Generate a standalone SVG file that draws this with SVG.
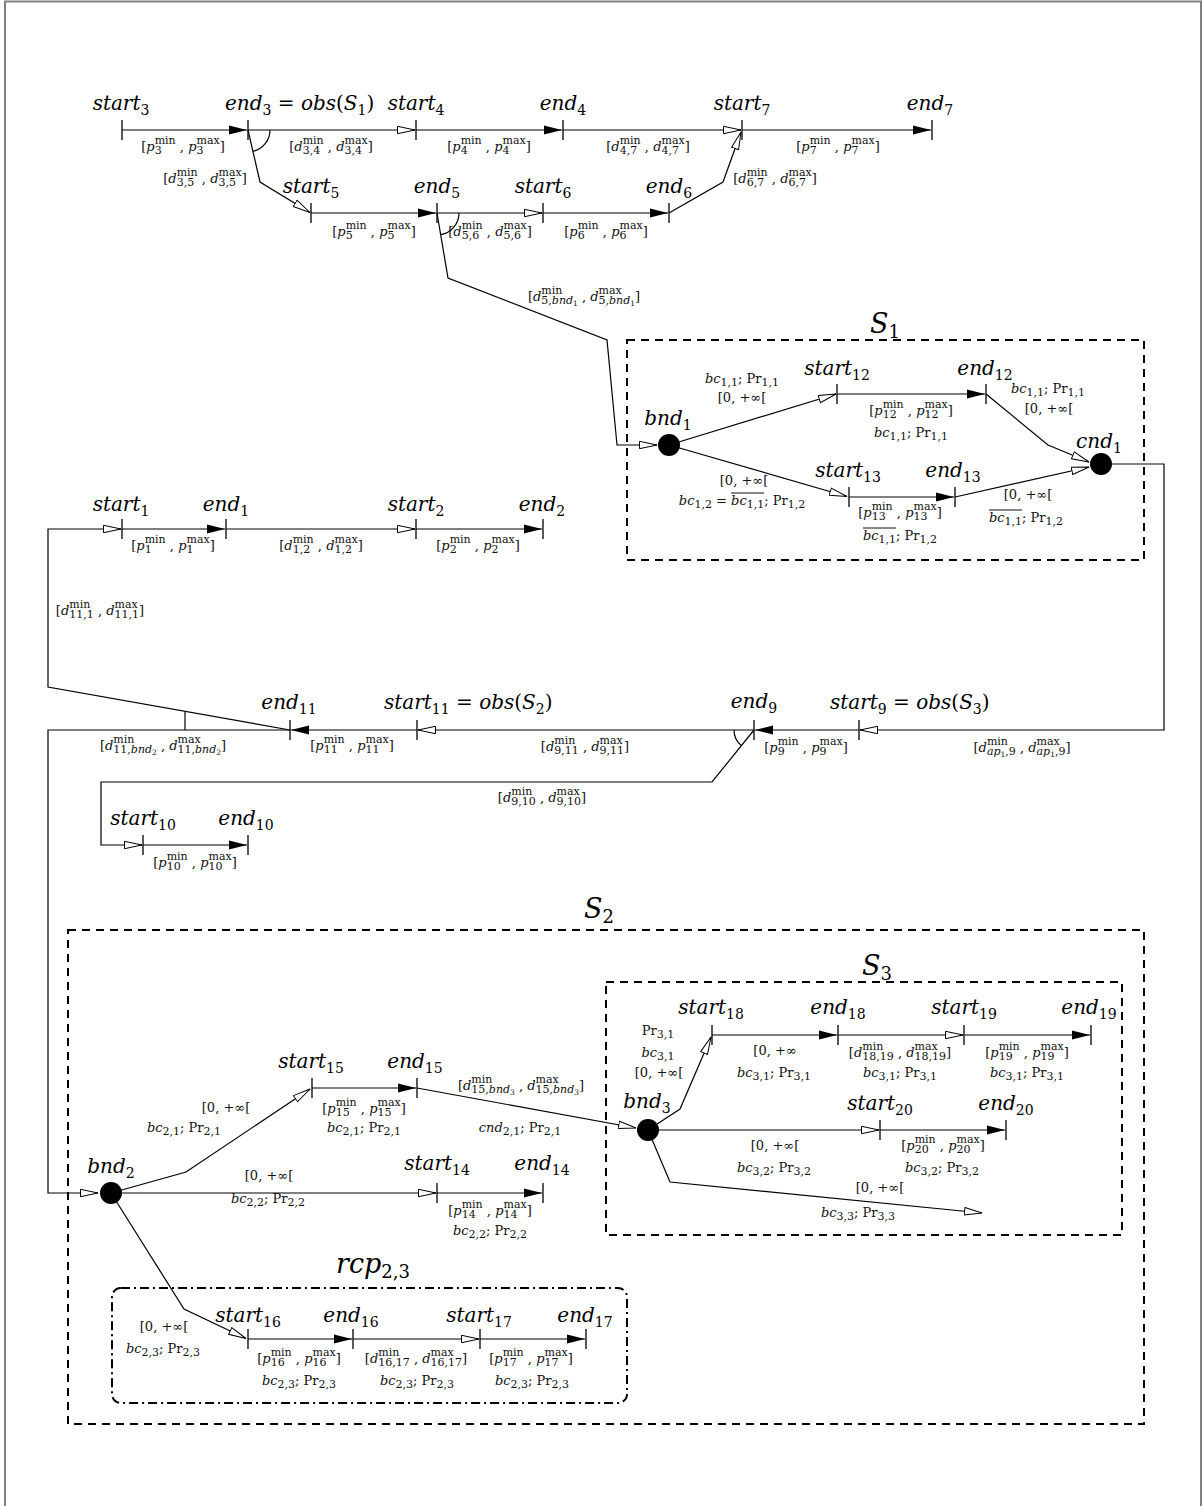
<svg xmlns="http://www.w3.org/2000/svg" width="1203" height="1506" viewBox="0 0 1203 1506">
<style>
.e{fill:none;stroke:#000;stroke-width:1.2}
.f{marker-end:url(#af)}
.o{marker-end:url(#ao)}
.tk{stroke:#000;stroke-width:1.3}
.t{font-family:"DejaVu Serif",serif;font-style:italic;font-size:20px;text-anchor:middle;fill:#000}
.ts{font-size:14px;font-style:normal}
.r{font-style:normal}
.l{font-family:"DejaVu Serif",serif;font-size:13px;text-anchor:middle;fill:#111}
.i{font-style:italic}
.s{font-size:11px}
.ss{font-size:7.5px;font-style:normal}
.box{fill:none;stroke:#000;stroke-width:2;stroke-dasharray:8 6}
.rcp{fill:none;stroke:#000;stroke-width:2;stroke-dasharray:9 4 2 4}
.big{font-family:"DejaVu Serif",serif;font-style:italic;font-size:27px;text-anchor:middle;fill:#000}
.bs{font-size:18px;font-style:normal}
.ol{stroke:#111;stroke-width:1}
</style>
<defs>
<marker id="af" markerWidth="20" markerHeight="10" refX="18" refY="5" orient="auto" markerUnits="userSpaceOnUse"><path d="M0,0.5 L18,5 L0,9.5 z" fill="#000"/></marker>
<marker id="ao" markerWidth="20" markerHeight="10" refX="18" refY="5" orient="auto" markerUnits="userSpaceOnUse"><path d="M0.5,1.3 L18,5 L0.5,8.7 z" fill="#fff" stroke="#000" stroke-width="1"/></marker>
</defs>
<rect width="1203" height="1506" fill="#fff"/>
<path d="M5,1510 V1.5 H1201 V1510" fill="none" stroke="#808080" stroke-width="2"/>

<g id="boxes">
<g id="S1"><rect class="box" x="627" y="340" width="517" height="220"/><text class="big" x="885" y="333">S<tspan class="bs" dy="5">1</tspan></text></g>
<g id="S2"><rect class="box" x="68" y="930" width="1076" height="494"/><text class="big" x="599" y="918">S<tspan class="bs" dy="5">2</tspan></text></g>
<g id="S3"><rect class="box" x="606" y="982" width="516" height="253"/><text class="big" x="877" y="975">S<tspan class="bs" dy="5">3</tspan></text></g>
<g id="rcp23"><rect class="rcp" x="112" y="1288" width="515" height="115" rx="9"/><text class="big" x="373" y="1273">rcp<tspan class="bs" dy="5">2,3</tspan></text></g>
</g>

<g id="connectors">
<path class="e f" d="M122,130 H247"/>
<path class="e o" d="M248,130 H415"/>
<path class="e f" d="M416,130 H562"/>
<path class="e o" d="M563,130 H741"/>
<path class="e f" d="M742,130 H931"/>
<path class="e o" d="M248,130 L260,182 L310,212.5"/>
<path class="e" d="M270,130 A22,22 0 0 1 252.9,151.4"/>
<path class="e f" d="M311,213 H436"/>
<path class="e o" d="M437,213 H542"/>
<path class="e f" d="M543,213 H668"/>
<path class="e o" d="M669,213 L723,182 L741,132"/>
<path class="e" d="M459,213 A22,22 0 0 1 440.8,234.7"/>
<path class="e o" d="M437,213 L448,278 L607,340 L617,445 L657,445"/>
<path class="e o" d="M669,445 L836,394"/>
<path class="e f" d="M837,394 H985"/>
<path class="e o" d="M986,394 L1048,445 L1089,462"/>
<path class="e o" d="M669,445 L847,496.5"/>
<path class="e f" d="M849,497 H954"/>
<path class="e o" d="M955,497 L1089,467"/>
<path class="e o" d="M1101,464 H1164 V730 H860"/>
<path class="e f" d="M122,529 H225"/>
<path class="e o" d="M226,529 H415"/>
<path class="e f" d="M416,529 H542"/>
<path class="e o" d="M290,730 L48,687 V529 H121"/>
<path class="e f" d="M859,730 H755"/>
<path class="e o" d="M754,730 H418"/>
<path class="e f" d="M417,730 H291"/>
<path class="e o" d="M290,730 H48 V1193 H98"/>
<path class="e" d="M185,711.5 V730"/>
<path class="e o" d="M754,730 L712,782 H101 V845 H142"/>
<path class="e" d="M734,730 A20,20 0 0 0 741.4,745.6"/>
<path class="e f" d="M143,845 H247"/>
<path class="e o" d="M111,1193 L186,1172 L310,1089"/>
<path class="e f" d="M312,1088 H416"/>
<path class="e o" d="M417,1088 L636,1128"/>
<path class="e o" d="M111,1193 H436"/>
<path class="e f" d="M437,1193 H542"/>
<path class="e o" d="M111,1193 L184,1309 L246,1338.5"/>
<path class="e f" d="M248,1339 H352"/>
<path class="e o" d="M353,1339 H479"/>
<path class="e f" d="M480,1339 H585"/>
<path class="e o" d="M648,1130 L680,1109 L711,1037"/>
<path class="e f" d="M712,1035 H837"/>
<path class="e o" d="M838,1035 H963"/>
<path class="e f" d="M964,1035 H1090"/>
<path class="e o" d="M648,1130 H879"/>
<path class="e f" d="M880,1130 H1005"/>
<path class="e o" d="M648,1130 L670,1182 L982,1213"/>
</g>

<g id="edge-labels">
<text class="l" x="183" y="151">[<tspan class="i">p</tspan><tspan class="s" dy="-7">min</tspan><tspan class="s" dx="-21" dy="10">3</tspan><tspan dx="14" dy="-3"> , </tspan><tspan class="i">p</tspan><tspan class="s" dy="-7">max</tspan><tspan class="s" dx="-23.2" dy="10">3</tspan><tspan dx="16.2" dy="-3">]</tspan></text>
<text class="l" x="331" y="151">[<tspan class="i">d</tspan><tspan class="s" dy="-7">min</tspan><tspan class="s" dx="-21" dy="10">3,4</tspan><tspan dx="3.5" dy="-3"> , </tspan><tspan class="i">d</tspan><tspan class="s" dy="-7">max</tspan><tspan class="s" dx="-23.2" dy="10">3,4</tspan><tspan dx="5.7" dy="-3">]</tspan></text>
<text class="l" x="489" y="151">[<tspan class="i">p</tspan><tspan class="s" dy="-7">min</tspan><tspan class="s" dx="-21" dy="10">4</tspan><tspan dx="14" dy="-3"> , </tspan><tspan class="i">p</tspan><tspan class="s" dy="-7">max</tspan><tspan class="s" dx="-23.2" dy="10">4</tspan><tspan dx="16.2" dy="-3">]</tspan></text>
<text class="l" x="648" y="151">[<tspan class="i">d</tspan><tspan class="s" dy="-7">min</tspan><tspan class="s" dx="-21" dy="10">4,7</tspan><tspan dx="3.5" dy="-3"> , </tspan><tspan class="i">d</tspan><tspan class="s" dy="-7">max</tspan><tspan class="s" dx="-23.2" dy="10">4,7</tspan><tspan dx="5.7" dy="-3">]</tspan></text>
<text class="l" x="838" y="151">[<tspan class="i">p</tspan><tspan class="s" dy="-7">min</tspan><tspan class="s" dx="-21" dy="10">7</tspan><tspan dx="14" dy="-3"> , </tspan><tspan class="i">p</tspan><tspan class="s" dy="-7">max</tspan><tspan class="s" dx="-23.2" dy="10">7</tspan><tspan dx="16.2" dy="-3">]</tspan></text>
<text class="l" x="205" y="183">[<tspan class="i">d</tspan><tspan class="s" dy="-7">min</tspan><tspan class="s" dx="-21" dy="10">3,5</tspan><tspan dx="3.5" dy="-3"> , </tspan><tspan class="i">d</tspan><tspan class="s" dy="-7">max</tspan><tspan class="s" dx="-23.2" dy="10">3,5</tspan><tspan dx="5.7" dy="-3">]</tspan></text>
<text class="l" x="775" y="183">[<tspan class="i">d</tspan><tspan class="s" dy="-7">min</tspan><tspan class="s" dx="-21" dy="10">6,7</tspan><tspan dx="3.5" dy="-3"> , </tspan><tspan class="i">d</tspan><tspan class="s" dy="-7">max</tspan><tspan class="s" dx="-23.2" dy="10">6,7</tspan><tspan dx="5.7" dy="-3">]</tspan></text>
<text class="l" x="374" y="236">[<tspan class="i">p</tspan><tspan class="s" dy="-7">min</tspan><tspan class="s" dx="-21" dy="10">5</tspan><tspan dx="14" dy="-3"> , </tspan><tspan class="i">p</tspan><tspan class="s" dy="-7">max</tspan><tspan class="s" dx="-23.2" dy="10">5</tspan><tspan dx="16.2" dy="-3">]</tspan></text>
<text class="l" x="490" y="236">[<tspan class="i">d</tspan><tspan class="s" dy="-7">min</tspan><tspan class="s" dx="-21" dy="10">5,6</tspan><tspan dx="3.5" dy="-3"> , </tspan><tspan class="i">d</tspan><tspan class="s" dy="-7">max</tspan><tspan class="s" dx="-23.2" dy="10">5,6</tspan><tspan dx="5.7" dy="-3">]</tspan></text>
<text class="l" x="606" y="236">[<tspan class="i">p</tspan><tspan class="s" dy="-7">min</tspan><tspan class="s" dx="-21" dy="10">6</tspan><tspan dx="14" dy="-3"> , </tspan><tspan class="i">p</tspan><tspan class="s" dy="-7">max</tspan><tspan class="s" dx="-23.2" dy="10">6</tspan><tspan dx="16.2" dy="-3">]</tspan></text>
<text class="l" x="584" y="301">[<tspan class="i">d</tspan><tspan class="s" dy="-7">min</tspan><tspan class="s" dx="-21" dy="10">5,<tspan class="i">bnd</tspan><tspan class="ss" dy="2">1</tspan></tspan><tspan dy="-5"> , </tspan><tspan class="i">d</tspan><tspan class="s" dy="-7">max</tspan><tspan class="s" dx="-23.2" dy="10">5,<tspan class="i">bnd</tspan><tspan class="ss" dy="2">1</tspan></tspan><tspan dy="-5">]</tspan></text>

<text class="l" x="742" y="383"><tspan class="i">bc</tspan><tspan class="s" dy="3">1,1</tspan><tspan dy="-3">; Pr</tspan><tspan class="s" dy="3">1,1</tspan></text>
<text class="l" x="742" y="402">[0, +∞[</text>
<text class="l" x="911" y="415">[<tspan class="i">p</tspan><tspan class="s" dy="-7">min</tspan><tspan class="s" dx="-21" dy="10">12</tspan><tspan dx="7" dy="-3"> , </tspan><tspan class="i">p</tspan><tspan class="s" dy="-7">max</tspan><tspan class="s" dx="-23.2" dy="10">12</tspan><tspan dx="9.2" dy="-3">]</tspan></text>
<text class="l" x="911" y="437"><tspan class="i">bc</tspan><tspan class="s" dy="3">1,1</tspan><tspan dy="-3">; Pr</tspan><tspan class="s" dy="3">1,1</tspan></text>
<text class="l" x="1048" y="393"><tspan class="i">bc</tspan><tspan class="s" dy="3">1,1</tspan><tspan dy="-3">; Pr</tspan><tspan class="s" dy="3">1,1</tspan></text>
<text class="l" x="1049" y="413">[0, +∞[</text>
<text class="l" x="744" y="485">[0, +∞[</text>
<text class="l" x="742" y="505"><tspan class="i">bc</tspan><tspan class="s" dy="3">1,2</tspan><tspan dy="-3"> = </tspan><tspan class="i">bc</tspan><tspan class="s" dy="3">1,1</tspan><tspan dy="-3">; Pr</tspan><tspan class="s" dy="3">1,2</tspan></text>
<line class="ol" x1="731" y1="493" x2="764" y2="493"/>
<text class="l" x="900" y="517">[<tspan class="i">p</tspan><tspan class="s" dy="-7">min</tspan><tspan class="s" dx="-21" dy="10">13</tspan><tspan dx="7" dy="-3"> , </tspan><tspan class="i">p</tspan><tspan class="s" dy="-7">max</tspan><tspan class="s" dx="-23.2" dy="10">13</tspan><tspan dx="9.2" dy="-3">]</tspan></text>
<text class="l" x="900" y="540"><tspan class="i">bc</tspan><tspan class="s" dy="3">1,1</tspan><tspan dy="-3">; Pr</tspan><tspan class="s" dy="3">1,2</tspan></text>
<line class="ol" x1="863" y1="528" x2="896" y2="528"/>
<text class="l" x="1028" y="499">[0, +∞[</text>
<text class="l" x="1026" y="522"><tspan class="i">bc</tspan><tspan class="s" dy="3">1,1</tspan><tspan dy="-3">; Pr</tspan><tspan class="s" dy="3">1,2</tspan></text>
<line class="ol" x1="989" y1="510" x2="1022" y2="510"/>

<text class="l" x="173" y="550">[<tspan class="i">p</tspan><tspan class="s" dy="-7">min</tspan><tspan class="s" dx="-21" dy="10">1</tspan><tspan dx="14" dy="-3"> , </tspan><tspan class="i">p</tspan><tspan class="s" dy="-7">max</tspan><tspan class="s" dx="-23.2" dy="10">1</tspan><tspan dx="16.2" dy="-3">]</tspan></text>
<text class="l" x="321" y="550">[<tspan class="i">d</tspan><tspan class="s" dy="-7">min</tspan><tspan class="s" dx="-21" dy="10">1,2</tspan><tspan dx="3.5" dy="-3"> , </tspan><tspan class="i">d</tspan><tspan class="s" dy="-7">max</tspan><tspan class="s" dx="-23.2" dy="10">1,2</tspan><tspan dx="5.7" dy="-3">]</tspan></text>
<text class="l" x="478" y="550">[<tspan class="i">p</tspan><tspan class="s" dy="-7">min</tspan><tspan class="s" dx="-21" dy="10">2</tspan><tspan dx="14" dy="-3"> , </tspan><tspan class="i">p</tspan><tspan class="s" dy="-7">max</tspan><tspan class="s" dx="-23.2" dy="10">2</tspan><tspan dx="16.2" dy="-3">]</tspan></text>
<text class="l" x="100" y="615">[<tspan class="i">d</tspan><tspan class="s" dy="-7">min</tspan><tspan class="s" dx="-21" dy="10">11,1</tspan><tspan dy="-3"> , </tspan><tspan class="i">d</tspan><tspan class="s" dy="-7">max</tspan><tspan class="s" dx="-23.2" dy="10">11,1</tspan><tspan dy="-3">]</tspan></text>

<text class="l" x="163" y="750">[<tspan class="i">d</tspan><tspan class="s" dy="-7">min</tspan><tspan class="s" dx="-21" dy="10">11,<tspan class="i">bnd</tspan><tspan class="ss" dy="2">2</tspan></tspan><tspan dy="-5"> , </tspan><tspan class="i">d</tspan><tspan class="s" dy="-7">max</tspan><tspan class="s" dx="-23.2" dy="10">11,<tspan class="i">bnd</tspan><tspan class="ss" dy="2">2</tspan></tspan><tspan dy="-5">]</tspan></text>
<text class="l" x="352" y="750">[<tspan class="i">p</tspan><tspan class="s" dy="-7">min</tspan><tspan class="s" dx="-21" dy="10">11</tspan><tspan dx="7" dy="-3"> , </tspan><tspan class="i">p</tspan><tspan class="s" dy="-7">max</tspan><tspan class="s" dx="-23.2" dy="10">11</tspan><tspan dx="9.2" dy="-3">]</tspan></text>
<text class="l" x="585" y="751">[<tspan class="i">d</tspan><tspan class="s" dy="-7">min</tspan><tspan class="s" dx="-21" dy="10">9,11</tspan><tspan dy="-3"> , </tspan><tspan class="i">d</tspan><tspan class="s" dy="-7">max</tspan><tspan class="s" dx="-23.2" dy="10">9,11</tspan><tspan dy="-3">]</tspan></text>
<text class="l" x="806" y="752">[<tspan class="i">p</tspan><tspan class="s" dy="-7">min</tspan><tspan class="s" dx="-21" dy="10">9</tspan><tspan dx="14" dy="-3"> , </tspan><tspan class="i">p</tspan><tspan class="s" dy="-7">max</tspan><tspan class="s" dx="-23.2" dy="10">9</tspan><tspan dx="16.2" dy="-3">]</tspan></text>
<text class="l" x="1022" y="752">[<tspan class="i">d</tspan><tspan class="s" dy="-7">min</tspan><tspan class="s" dx="-21" dy="10"><tspan class="i">ap</tspan><tspan class="ss" dy="2">1</tspan><tspan dy="-2">,9</tspan></tspan><tspan dy="-3"> , </tspan><tspan class="i">d</tspan><tspan class="s" dy="-7">max</tspan><tspan class="s" dx="-23.2" dy="10"><tspan class="i">ap</tspan><tspan class="ss" dy="2">1</tspan><tspan dy="-2">,9</tspan></tspan><tspan dy="-3">]</tspan></text>
<text class="l" x="542" y="802">[<tspan class="i">d</tspan><tspan class="s" dy="-7">min</tspan><tspan class="s" dx="-21" dy="10">9,10</tspan><tspan dy="-3"> , </tspan><tspan class="i">d</tspan><tspan class="s" dy="-7">max</tspan><tspan class="s" dx="-23.2" dy="10">9,10</tspan><tspan dy="-3">]</tspan></text>
<text class="l" x="195" y="867">[<tspan class="i">p</tspan><tspan class="s" dy="-7">min</tspan><tspan class="s" dx="-21" dy="10">10</tspan><tspan dx="7" dy="-3"> , </tspan><tspan class="i">p</tspan><tspan class="s" dy="-7">max</tspan><tspan class="s" dx="-23.2" dy="10">10</tspan><tspan dx="9.2" dy="-3">]</tspan></text>

<text class="l" x="226" y="1112">[0, +∞[</text>
<text class="l" x="184" y="1132"><tspan class="i">bc</tspan><tspan class="s" dy="3">2,1</tspan><tspan dy="-3">; Pr</tspan><tspan class="s" dy="3">2,1</tspan></text>
<text class="l" x="364" y="1113">[<tspan class="i">p</tspan><tspan class="s" dy="-7">min</tspan><tspan class="s" dx="-21" dy="10">15</tspan><tspan dx="7" dy="-3"> , </tspan><tspan class="i">p</tspan><tspan class="s" dy="-7">max</tspan><tspan class="s" dx="-23.2" dy="10">15</tspan><tspan dx="9.2" dy="-3">]</tspan></text>
<text class="l" x="364" y="1132"><tspan class="i">bc</tspan><tspan class="s" dy="3">2,1</tspan><tspan dy="-3">; Pr</tspan><tspan class="s" dy="3">2,1</tspan></text>
<text class="l" x="521" y="1090">[<tspan class="i">d</tspan><tspan class="s" dy="-7">min</tspan><tspan class="s" dx="-21" dy="10">15,<tspan class="i">bnd</tspan><tspan class="ss" dy="2">3</tspan></tspan><tspan dy="-5"> , </tspan><tspan class="i">d</tspan><tspan class="s" dy="-7">max</tspan><tspan class="s" dx="-23.2" dy="10">15,<tspan class="i">bnd</tspan><tspan class="ss" dy="2">3</tspan></tspan><tspan dy="-5">]</tspan></text>
<text class="l" x="520" y="1132"><tspan class="i">cnd</tspan><tspan class="s" dy="3">2,1</tspan><tspan dy="-3">; Pr</tspan><tspan class="s" dy="3">2,1</tspan></text>
<text class="l" x="269" y="1180">[0, +∞[</text>
<text class="l" x="268" y="1203"><tspan class="i">bc</tspan><tspan class="s" dy="3">2,2</tspan><tspan dy="-3">; Pr</tspan><tspan class="s" dy="3">2,2</tspan></text>
<text class="l" x="490" y="1215">[<tspan class="i">p</tspan><tspan class="s" dy="-7">min</tspan><tspan class="s" dx="-21" dy="10">14</tspan><tspan dx="7" dy="-3"> , </tspan><tspan class="i">p</tspan><tspan class="s" dy="-7">max</tspan><tspan class="s" dx="-23.2" dy="10">14</tspan><tspan dx="9.2" dy="-3">]</tspan></text>
<text class="l" x="490" y="1235"><tspan class="i">bc</tspan><tspan class="s" dy="3">2,2</tspan><tspan dy="-3">; Pr</tspan><tspan class="s" dy="3">2,2</tspan></text>

<text class="l" x="658" y="1035">Pr<tspan class="s" dy="3">3,1</tspan></text>
<text class="l" x="658" y="1057"><tspan class="i">bc</tspan><tspan class="s" dy="3">3,1</tspan></text>
<text class="l" x="659" y="1077">[0, +∞[</text>
<text class="l" x="775" y="1055">[0, +∞</text>
<text class="l" x="774" y="1077"><tspan class="i">bc</tspan><tspan class="s" dy="3">3,1</tspan><tspan dy="-3">; Pr</tspan><tspan class="s" dy="3">3,1</tspan></text>
<text class="l" x="900" y="1057">[<tspan class="i">d</tspan><tspan class="s" dy="-7">min</tspan><tspan class="s" dx="-21" dy="10">18,19</tspan><tspan dy="-3"> , </tspan><tspan class="i">d</tspan><tspan class="s" dy="-7">max</tspan><tspan class="s" dx="-23.2" dy="10">18,19</tspan><tspan dy="-3">]</tspan></text>
<text class="l" x="900" y="1077"><tspan class="i">bc</tspan><tspan class="s" dy="3">3,1</tspan><tspan dy="-3">; Pr</tspan><tspan class="s" dy="3">3,1</tspan></text>
<text class="l" x="1027" y="1057">[<tspan class="i">p</tspan><tspan class="s" dy="-7">min</tspan><tspan class="s" dx="-21" dy="10">19</tspan><tspan dx="7" dy="-3"> , </tspan><tspan class="i">p</tspan><tspan class="s" dy="-7">max</tspan><tspan class="s" dx="-23.2" dy="10">19</tspan><tspan dx="9.2" dy="-3">]</tspan></text>
<text class="l" x="1027" y="1077"><tspan class="i">bc</tspan><tspan class="s" dy="3">3,1</tspan><tspan dy="-3">; Pr</tspan><tspan class="s" dy="3">3,1</tspan></text>
<text class="l" x="775" y="1150">[0, +∞[</text>
<text class="l" x="774" y="1172"><tspan class="i">bc</tspan><tspan class="s" dy="3">3,2</tspan><tspan dy="-3">; Pr</tspan><tspan class="s" dy="3">3,2</tspan></text>
<text class="l" x="943" y="1150">[<tspan class="i">p</tspan><tspan class="s" dy="-7">min</tspan><tspan class="s" dx="-21" dy="10">20</tspan><tspan dx="7" dy="-3"> , </tspan><tspan class="i">p</tspan><tspan class="s" dy="-7">max</tspan><tspan class="s" dx="-23.2" dy="10">20</tspan><tspan dx="9.2" dy="-3">]</tspan></text>
<text class="l" x="942" y="1172"><tspan class="i">bc</tspan><tspan class="s" dy="3">3,2</tspan><tspan dy="-3">; Pr</tspan><tspan class="s" dy="3">3,2</tspan></text>
<text class="l" x="880" y="1192">[0, +∞[</text>
<text class="l" x="858" y="1217"><tspan class="i">bc</tspan><tspan class="s" dy="3">3,3</tspan><tspan dy="-3">; Pr</tspan><tspan class="s" dy="3">3,3</tspan></text>

<text class="l" x="164" y="1331">[0, +∞[</text>
<text class="l" x="163" y="1353"><tspan class="i">bc</tspan><tspan class="s" dy="3">2,3</tspan><tspan dy="-3">; Pr</tspan><tspan class="s" dy="3">2,3</tspan></text>
<text class="l" x="299" y="1363">[<tspan class="i">p</tspan><tspan class="s" dy="-7">min</tspan><tspan class="s" dx="-21" dy="10">16</tspan><tspan dx="7" dy="-3"> , </tspan><tspan class="i">p</tspan><tspan class="s" dy="-7">max</tspan><tspan class="s" dx="-23.2" dy="10">16</tspan><tspan dx="9.2" dy="-3">]</tspan></text>
<text class="l" x="299" y="1385"><tspan class="i">bc</tspan><tspan class="s" dy="3">2,3</tspan><tspan dy="-3">; Pr</tspan><tspan class="s" dy="3">2,3</tspan></text>
<text class="l" x="416" y="1363">[<tspan class="i">d</tspan><tspan class="s" dy="-7">min</tspan><tspan class="s" dx="-21" dy="10">16,17</tspan><tspan dy="-3"> , </tspan><tspan class="i">d</tspan><tspan class="s" dy="-7">max</tspan><tspan class="s" dx="-23.2" dy="10">16,17</tspan><tspan dy="-3">]</tspan></text>
<text class="l" x="417" y="1385"><tspan class="i">bc</tspan><tspan class="s" dy="3">2,3</tspan><tspan dy="-3">; Pr</tspan><tspan class="s" dy="3">2,3</tspan></text>
<text class="l" x="531" y="1363">[<tspan class="i">p</tspan><tspan class="s" dy="-7">min</tspan><tspan class="s" dx="-21" dy="10">17</tspan><tspan dx="7" dy="-3"> , </tspan><tspan class="i">p</tspan><tspan class="s" dy="-7">max</tspan><tspan class="s" dx="-23.2" dy="10">17</tspan><tspan dx="9.2" dy="-3">]</tspan></text>
<text class="l" x="532" y="1385"><tspan class="i">bc</tspan><tspan class="s" dy="3">2,3</tspan><tspan dy="-3">; Pr</tspan><tspan class="s" dy="3">2,3</tspan></text>
</g>

<g id="nodes">
<g id="start3"><line class="tk" x1="122" y1="120" x2="122" y2="140"/><text class="t" x="121" y="110">start<tspan class="ts" dy="5">3</tspan></text></g>
<g id="end3"><line class="tk" x1="248" y1="120" x2="248" y2="140"/><text class="t" x="225" y="110" style="text-anchor:start">end<tspan class="ts" dy="5">3</tspan><tspan class="r" dy="-5"> = </tspan>obs<tspan class="r">(</tspan>S<tspan class="ts" dy="5">1</tspan><tspan class="r" dy="-5">)</tspan></text></g>
<g id="start4"><line class="tk" x1="416" y1="120" x2="416" y2="140"/><text class="t" x="416" y="110">start<tspan class="ts" dy="5">4</tspan></text></g>
<g id="end4"><line class="tk" x1="563" y1="120" x2="563" y2="140"/><text class="t" x="563" y="110">end<tspan class="ts" dy="5">4</tspan></text></g>
<g id="start7"><line class="tk" x1="742" y1="120" x2="742" y2="140"/><text class="t" x="742" y="110">start<tspan class="ts" dy="5">7</tspan></text></g>
<g id="end7"><line class="tk" x1="932" y1="120" x2="932" y2="140"/><text class="t" x="930" y="110">end<tspan class="ts" dy="5">7</tspan></text></g>
<g id="start5"><line class="tk" x1="311" y1="203" x2="311" y2="223"/><text class="t" x="311" y="193">start<tspan class="ts" dy="5">5</tspan></text></g>
<g id="end5"><line class="tk" x1="437" y1="203" x2="437" y2="223"/><text class="t" x="437" y="193">end<tspan class="ts" dy="5">5</tspan></text></g>
<g id="start6"><line class="tk" x1="543" y1="203" x2="543" y2="223"/><text class="t" x="543" y="193">start<tspan class="ts" dy="5">6</tspan></text></g>
<g id="end6"><line class="tk" x1="669" y1="203" x2="669" y2="223"/><text class="t" x="669" y="193">end<tspan class="ts" dy="5">6</tspan></text></g>

<g id="bnd1"><circle cx="669" cy="445" r="11" fill="#000"/><text class="t" x="668" y="425">bnd<tspan class="ts" dy="5">1</tspan></text></g>
<g id="start12"><line class="tk" x1="837" y1="384" x2="837" y2="404"/><text class="t" x="837" y="375">start<tspan class="ts" dy="5">12</tspan></text></g>
<g id="end12"><line class="tk" x1="986" y1="384" x2="986" y2="404"/><text class="t" x="985" y="375">end<tspan class="ts" dy="5">12</tspan></text></g>
<g id="start13"><line class="tk" x1="849" y1="487" x2="849" y2="507"/><text class="t" x="848" y="477">start<tspan class="ts" dy="5">13</tspan></text></g>
<g id="end13"><line class="tk" x1="955" y1="487" x2="955" y2="507"/><text class="t" x="953" y="477">end<tspan class="ts" dy="5">13</tspan></text></g>
<g id="cnd1"><circle cx="1101" cy="464" r="11" fill="#000"/><text class="t" x="1099" y="448">cnd<tspan class="ts" dy="5">1</tspan></text></g>

<g id="start1"><line class="tk" x1="122" y1="519" x2="122" y2="539"/><text class="t" x="121" y="511">start<tspan class="ts" dy="5">1</tspan></text></g>
<g id="end1"><line class="tk" x1="226" y1="519" x2="226" y2="539"/><text class="t" x="226" y="511">end<tspan class="ts" dy="5">1</tspan></text></g>
<g id="start2"><line class="tk" x1="416" y1="519" x2="416" y2="539"/><text class="t" x="416" y="511">start<tspan class="ts" dy="5">2</tspan></text></g>
<g id="end2"><line class="tk" x1="543" y1="519" x2="543" y2="539"/><text class="t" x="542" y="511">end<tspan class="ts" dy="5">2</tspan></text></g>

<g id="end11"><line class="tk" x1="290" y1="720" x2="290" y2="740"/><text class="t" x="289" y="709">end<tspan class="ts" dy="5">11</tspan></text></g>
<g id="start11"><line class="tk" x1="417" y1="720" x2="417" y2="740"/><text class="t" x="384" y="709" style="text-anchor:start">start<tspan class="ts" dy="5">11</tspan><tspan class="r" dy="-5"> = </tspan>obs<tspan class="r">(</tspan>S<tspan class="ts" dy="5">2</tspan><tspan class="r" dy="-5">)</tspan></text></g>
<g id="end9"><line class="tk" x1="754" y1="720" x2="754" y2="740"/><text class="t" x="754" y="708">end<tspan class="ts" dy="5">9</tspan></text></g>
<g id="start9"><line class="tk" x1="859" y1="720" x2="859" y2="740"/><text class="t" x="830" y="709" style="text-anchor:start">start<tspan class="ts" dy="5">9</tspan><tspan class="r" dy="-5"> = </tspan>obs<tspan class="r">(</tspan>S<tspan class="ts" dy="5">3</tspan><tspan class="r" dy="-5">)</tspan></text></g>
<g id="start10"><line class="tk" x1="143" y1="835" x2="143" y2="855"/><text class="t" x="143" y="825">start<tspan class="ts" dy="5">10</tspan></text></g>
<g id="end10"><line class="tk" x1="248" y1="835" x2="248" y2="855"/><text class="t" x="246" y="825">end<tspan class="ts" dy="5">10</tspan></text></g>

<g id="bnd2"><circle cx="111" cy="1193" r="11" fill="#000"/><text class="t" x="111" y="1173">bnd<tspan class="ts" dy="5">2</tspan></text></g>
<g id="start15"><line class="tk" x1="312" y1="1078" x2="312" y2="1098"/><text class="t" x="311" y="1068">start<tspan class="ts" dy="5">15</tspan></text></g>
<g id="end15"><line class="tk" x1="417" y1="1078" x2="417" y2="1098"/><text class="t" x="415" y="1068">end<tspan class="ts" dy="5">15</tspan></text></g>
<g id="start14"><line class="tk" x1="437" y1="1183" x2="437" y2="1203"/><text class="t" x="437" y="1170">start<tspan class="ts" dy="5">14</tspan></text></g>
<g id="end14"><line class="tk" x1="543" y1="1183" x2="543" y2="1203"/><text class="t" x="542" y="1170">end<tspan class="ts" dy="5">14</tspan></text></g>

<g id="bnd3"><circle cx="648" cy="1130" r="11" fill="#000"/><text class="t" x="647" y="1108">bnd<tspan class="ts" dy="5">3</tspan></text></g>
<g id="start18"><line class="tk" x1="712" y1="1025" x2="712" y2="1045"/><text class="t" x="711" y="1014">start<tspan class="ts" dy="5">18</tspan></text></g>
<g id="end18"><line class="tk" x1="838" y1="1025" x2="838" y2="1045"/><text class="t" x="838" y="1014">end<tspan class="ts" dy="5">18</tspan></text></g>
<g id="start19"><line class="tk" x1="964" y1="1025" x2="964" y2="1045"/><text class="t" x="964" y="1014">start<tspan class="ts" dy="5">19</tspan></text></g>
<g id="end19"><line class="tk" x1="1091" y1="1025" x2="1091" y2="1045"/><text class="t" x="1089" y="1014">end<tspan class="ts" dy="5">19</tspan></text></g>
<g id="start20"><line class="tk" x1="880" y1="1120" x2="880" y2="1140"/><text class="t" x="880" y="1110">start<tspan class="ts" dy="5">20</tspan></text></g>
<g id="end20"><line class="tk" x1="1006" y1="1120" x2="1006" y2="1140"/><text class="t" x="1006" y="1110">end<tspan class="ts" dy="5">20</tspan></text></g>

<g id="start16"><line class="tk" x1="248" y1="1329" x2="248" y2="1349"/><text class="t" x="248" y="1322">start<tspan class="ts" dy="5">16</tspan></text></g>
<g id="end16"><line class="tk" x1="353" y1="1329" x2="353" y2="1349"/><text class="t" x="351" y="1322">end<tspan class="ts" dy="5">16</tspan></text></g>
<g id="start17"><line class="tk" x1="480" y1="1329" x2="480" y2="1349"/><text class="t" x="479" y="1322">start<tspan class="ts" dy="5">17</tspan></text></g>
<g id="end17"><line class="tk" x1="586" y1="1329" x2="586" y2="1349"/><text class="t" x="585" y="1322">end<tspan class="ts" dy="5">17</tspan></text></g>
</g>
</svg>
